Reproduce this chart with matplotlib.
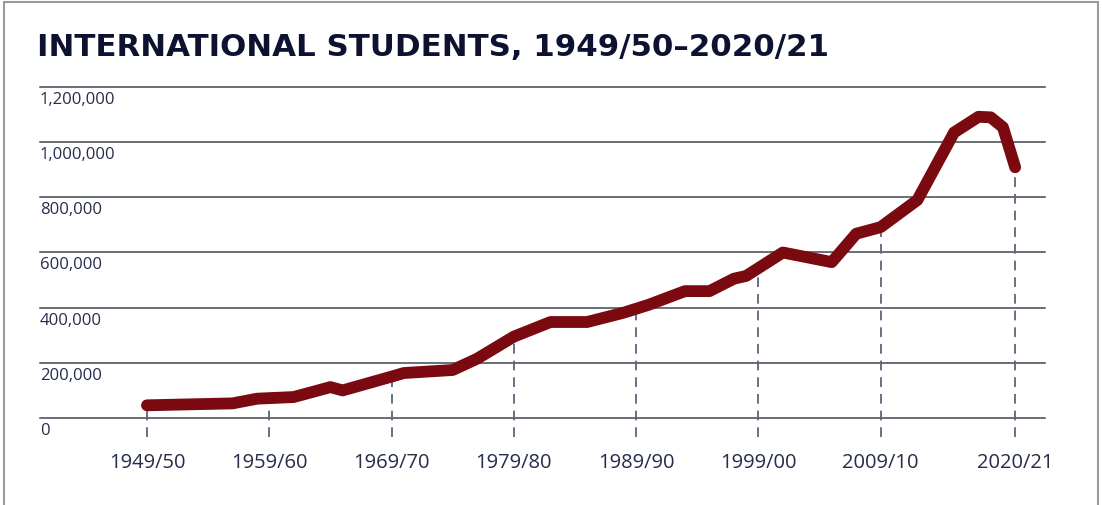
import matplotlib
matplotlib.use("Agg")
import matplotlib.pyplot as plt
import matplotlib.transforms as mtransforms
from matplotlib.patches import Rectangle
import numpy as np

# data (academic year start, students)
years = [1949, 1956, 1958, 1961, 1964, 1965, 1969, 1970, 1974, 1976, 1979,
         1982, 1985, 1988, 1990, 1993, 1995, 1997, 1998, 2001, 2005, 2007,
         2009, 2012, 2015, 2017, 2018, 2019, 2020]
students = [46000, 53000, 70000, 76000, 112000, 100000, 150000, 163000, 174000,
            215000, 295000, 348000, 348000, 382000, 410000, 460000, 460000,
            505000, 515000, 600000, 565000, 668000, 692000, 790000, 1035000,
            1092000, 1090000, 1054000, 909000]

tick_years = [1949, 1959, 1969, 1979, 1989, 1999, 2009, 2020]
tick_labels = ["1949/50", "1959/60", "1969/70", "1979/80", "1989/90",
               "1999/00", "2009/10", "2020/21"]
y_ticks = [0, 200000, 400000, 600000, 800000, 1000000, 1200000]

title = "INTERNATIONAL STUDENTS, 1949/50\u20132020/21"

navy = "#262c4a"
red = "#7a0a10"
plt.rcParams['lines.scale_dashes'] = False

fig = plt.figure(figsize=(11.02, 5.05), dpi=100)
W, H = 1102, 505
ax = fig.add_axes([40 / W, 1 - 418 / H, (1045 - 40) / W, (418 - 87) / H])

# frame round the whole picture
fig.patches.append(Rectangle((4 / W, -0.02), (1098 - 4) / W, 1.02 - 2 / H,
                             transform=fig.transFigure, fill=False,
                             edgecolor="#9a9a9a", linewidth=1.5))

ax.set_xlim(1940.25, 2022.44)
ax.set_ylim(0, 1200000)
for s in ax.spines.values():
    s.set_visible(False)
ax.set_xticks([])
ax.set_yticks([])

# horizontal rules
for v in y_ticks:
    ax.axhline(v, color="#43464f", linewidth=1.1, zorder=1, clip_on=False)

# y labels sit under each rule
lab_tr = mtransforms.offset_copy(ax.get_yaxis_transform(), fig=fig, x=0, y=-5, units='dots')
for v in y_ticks:
    ax.text(0.0, v, f"{v:,}", transform=lab_tr, ha='left', va='top',
            fontsize=12, color=navy, family="Open Sans")

# dashed drop lines at labelled years
drop = np.interp(tick_years, years, students)
ax.vlines(tick_years, -70000, drop, colors="#5d6579", linewidth=1.3,
          linestyles=[(0, (7, 5))], zorder=2, clip_on=False)

# x labels
xl_tr = mtransforms.offset_copy(ax.get_xaxis_transform(), fig=fig, x=0, y=-45, units='dots')
for yr, lab in zip(tick_years, tick_labels):
    ax.text(yr, 0, lab, transform=xl_tr, ha='center', va='center',
            fontsize=14.5, color=navy, family="Open Sans")

ax.plot(years, students, color=red, linewidth=8.5, solid_capstyle='round',
        solid_joinstyle='round', zorder=3, clip_on=False)

# title, sized to the reference width
t = fig.text(37 / W, 1 - 56 / H, title, ha='left', va='baseline',
             fontsize=22, fontweight='bold', color="#0d1230", family="DejaVu Sans")
fig.canvas.draw()
w = t.get_window_extent().width
t.set_fontsize(22 * 791 / w)

fig.savefig("out.png", dpi=100, facecolor="white")
